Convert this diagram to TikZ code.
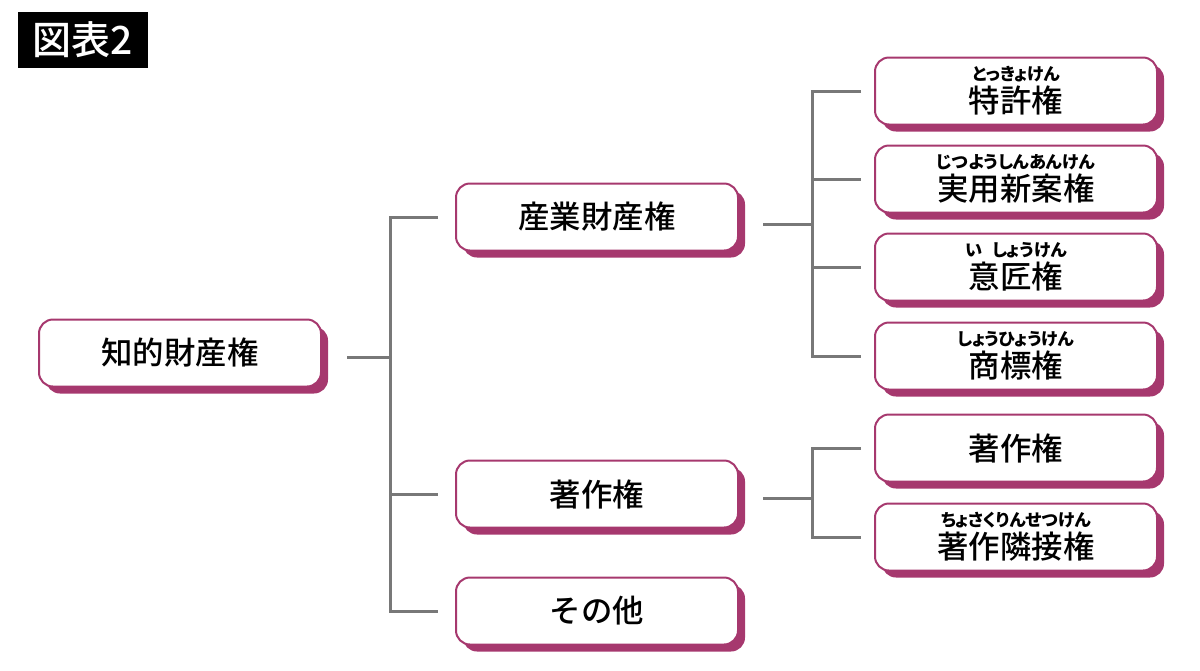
\documentclass[tikz,border=0pt]{standalone}
\usepackage{fontspec}
\setmainfont{Noto Sans CJK JP}[BoldFont={Noto Sans CJK JP Medium}]
\newfontfamily\rubyfont{Noto Sans CJK JP}[RawFeature=+palt]
\usetikzlibrary{positioning, shadows}
\definecolor{boxpink}{RGB}{166,56,110}
\definecolor{linegray}{RGB}{120,120,120}
\newcommand{\rb}[2]{{\rubyfont\fontsize{8.6}{9}\selectfont #1}\\[-2pt]#2}

\begin{document}
\begin{tikzpicture}[x=0.5pt, y=-0.5pt,
    box/.style={draw=boxpink, line width=1pt, fill=white, rounded corners=7pt,
        minimum width=141pt, minimum height=33.5pt, inner sep=0pt, align=center,
        font=\fontsize{15.7}{18}\selectfont\bfseries,
        drop shadow={shadow xshift=3.5pt, shadow yshift=-3.5pt, fill=boxpink, opacity=1}},
    conn/.style={draw=linegray, line width=1.5pt}]
    \useasboundingbox (0,0) rectangle (1200,670);
    \node[fill=black, text=white, minimum width=65pt, minimum height=28pt,
        font=\fontsize{19.5}{20}\selectfont\bfseries] (title) at (83,40) {図表2};
    % left and middle column
    \node[box] (ip) at (180,353) {知的財産権};
    \node[box] (ind) at (597,217) {産業財産権};
    \node[box] (cpy) at (597,494) {著作権};
    \node[box] (oth) at (597,611) {その他};
    % right column
    \node[box] (pat) at (1016,91) {\rb{とっきょけん}{特許権}};
    \node[box] (um) at (1016,179) {\rb{じつようしんあんけん}{実用新案権}};
    \node[box] (des) at (1016,267) {\rb{い\hspace{0.6em}しょうけん}{意匠権}};
    \node[box] (tm) at (1016,356) {\rb{しょうひょうけん}{商標権}};
    \node[box] (cr) at (1016,448) {著作権};
    \node[box] (nr) at (1016,537) {\rb{ちょさくりんせつけん}{著作隣接権}};
    % connectors
    \coordinate (j1) at (390,357);
    \draw[conn] ([xshift=12.5pt]ip.east |- j1) -- (j1);
    \draw[conn] ([xshift=-8.5pt]ind.west) -| (j1) |- ([xshift=-8.5pt]oth.west);
    \draw[conn] (j1 |- cpy.west) -- ([xshift=-8.5pt]cpy.west);
    \coordinate (j2) at (812,224);
    \draw[conn] ([xshift=12pt]ind.east |- j2) -- (j2);
    \draw[conn] ([xshift=-6.5pt]pat.west) -| (j2) |- ([xshift=-6.5pt]tm.west);
    \foreach \n in {um, des}
        \draw[conn] (j2 |- \n.west) -- ([xshift=-6.5pt]\n.west);
    \coordinate (j3) at (812,498);
    \draw[conn] ([xshift=12pt]cpy.east |- j3) -- (j3);
    \draw[conn] ([xshift=-6.5pt]cr.west) -| (j3) |- ([xshift=-6.5pt]nr.west);
\end{tikzpicture}
\end{document}
